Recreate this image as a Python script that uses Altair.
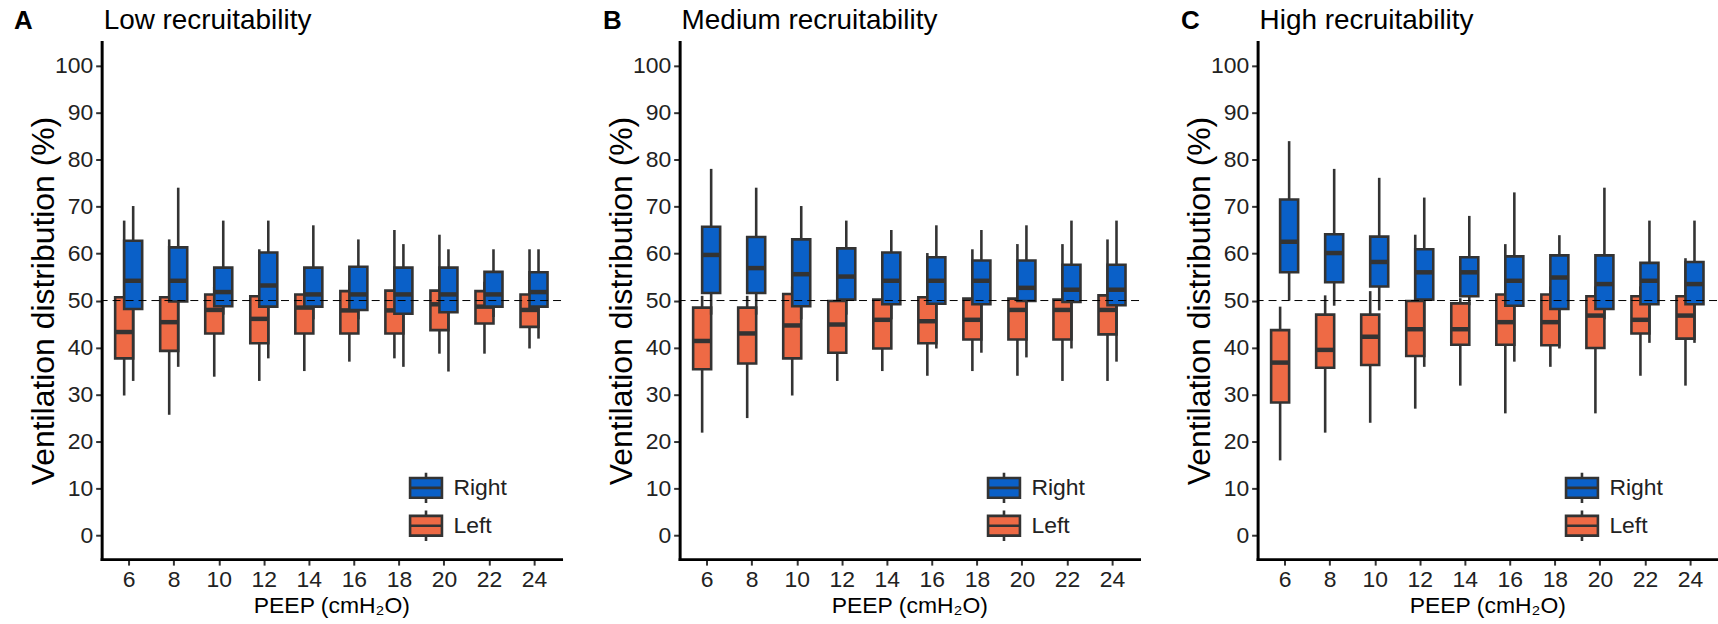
import altair as alt
import pandas as pd

FONT = "Liberation Sans"
STROKE = "#333333"

PEEP = [6, 8, 10, 12, 14, 16, 18, 20, 22, 24]
SIDES = ["Right", "Left"]
SIDE_COLORS = ["#0a60c8", "#ee6a45"]
PANEL_LETTERS = ["A", "B", "C"]
PANEL_TITLES = ["Low recruitability", "Medium recruitability", "High recruitability"]
Y_TICKS = [0, 10, 20, 30, 40, 50, 60, 70, 80, 90, 100]
REFERENCE_LINE = [50]

# Box-plot summaries per PEEP step: whisker ends (lo, hi), quartiles (q1, q3), median.
# Low recruitability
low_right_lo = [32.9, 35.9, 47.0, 37.7, 46.0, 46.0, 35.9, 34.9, 46.5, 41.9]
low_right_q1 = [48.2, 49.8, 48.8, 48.7, 48.7, 48.0, 47.2, 47.5, 48.7, 48.7]
low_right_med = [54.2, 54.2, 51.8, 53.2, 51.3, 51.3, 51.3, 51.3, 51.3, 51.8]
low_right_q3 = [62.7, 61.3, 57.0, 60.2, 57.0, 57.2, 57.0, 57.0, 56.1, 56.0]
low_right_hi = [70.1, 74.0, 67.0, 67.0, 66.0, 63.0, 62.0, 60.9, 60.9, 60.9]

low_left_lo = [29.8, 25.7, 33.8, 32.9, 35.0, 37.0, 37.7, 38.7, 38.7, 39.8]
low_left_q1 = [37.7, 39.3, 43.0, 40.9, 43.0, 43.0, 43.0, 43.7, 45.1, 44.4]
low_left_med = [43.3, 45.4, 48.0, 46.1, 48.5, 47.9, 47.9, 49.2, 48.7, 48.0]
low_left_q3 = [50.7, 50.7, 51.3, 50.9, 51.3, 52.0, 52.1, 52.1, 52.0, 51.3]
low_left_hi = [67.0, 63.0, 53.0, 60.9, 54.0, 54.0, 65.0, 64.0, 54.0, 60.9]

# Medium recruitability
med_right_lo = [47.0, 47.0, 46.0, 47.0, 46.0, 39.8, 38.9, 37.9, 39.8, 37.0]
med_right_q1 = [51.6, 51.6, 48.8, 50.2, 49.2, 49.3, 49.2, 49.9, 49.7, 49.0]
med_right_med = [59.7, 56.9, 55.6, 55.1, 54.2, 54.2, 54.2, 52.7, 52.3, 52.3]
med_right_q3 = [65.7, 63.5, 63.0, 61.1, 60.2, 59.2, 58.5, 58.5, 57.6, 57.6]
med_right_hi = [78.0, 74.0, 70.1, 67.0, 65.0, 66.0, 65.0, 66.0, 67.0, 67.0]

med_left_lo = [21.9, 25.0, 29.8, 32.9, 35.0, 34.0, 35.0, 34.0, 32.9, 32.9]
med_left_q1 = [35.4, 36.6, 37.7, 38.9, 39.8, 40.9, 41.7, 41.7, 41.7, 42.8]
med_left_med = [41.4, 43.0, 44.7, 44.9, 45.9, 45.6, 45.9, 48.0, 48.0, 48.0]
med_left_q3 = [48.5, 48.5, 51.4, 49.9, 50.2, 50.7, 50.4, 50.4, 50.2, 51.1]
med_left_hi = [51.0, 51.0, 53.0, 52.0, 52.0, 60.1, 60.9, 62.0, 62.0, 63.0]

# High recruitability
high_right_lo = [50.0, 48.9, 47.9, 35.9, 49.0, 37.0, 39.8, 46.0, 41.0, 41.0]
high_right_q1 = [56.0, 53.9, 53.0, 50.2, 50.9, 48.9, 48.2, 48.2, 49.2, 49.2]
high_right_med = [62.5, 60.1, 58.2, 56.0, 56.0, 54.2, 54.9, 53.5, 54.2, 53.5]
high_right_q3 = [71.5, 64.1, 63.6, 60.9, 59.2, 59.4, 59.6, 59.6, 58.0, 58.2]
high_right_hi = [83.9, 78.0, 76.1, 71.9, 68.0, 73.0, 63.9, 74.0, 67.0, 67.0]

high_left_lo = [16.0, 21.9, 24.0, 27.0, 31.9, 26.0, 35.9, 26.0, 34.0, 31.9]
high_left_q1 = [28.3, 35.7, 36.3, 38.2, 40.6, 40.6, 40.5, 39.9, 43.0, 41.9]
high_left_med = [36.8, 39.5, 42.3, 43.9, 43.9, 45.4, 45.4, 46.8, 45.9, 46.8]
high_left_q3 = [43.7, 47.0, 47.0, 49.9, 49.4, 51.3, 51.3, 50.9, 50.9, 50.9]
high_left_hi = [48.7, 51.1, 52.0, 64.0, 50.5, 62.0, 53.0, 53.0, 53.0, 59.0]


def summary(side, lo, q1, med, q3, hi):
    return pd.DataFrame({"peep": PEEP, "side": side, "lo": lo, "q1": q1,
                         "med": med, "q3": q3, "hi": hi})


X_SCALE = alt.Scale(domain=[4.8, 25.2], nice=False, zero=False)
Y_SCALE = alt.Scale(domain=[-5, 105], nice=False, zero=False)
X_AXIS = alt.Axis(values=PEEP, title="PEEP (cmH₂O)", titleFontSize=23,
                  titleFontWeight="normal", titleY=54, titleBaseline="alphabetic",
                  labelFlush=False)
Y_AXIS = alt.Axis(values=Y_TICKS, title="Ventilation distribution (%)",
                  titleFontSize=32, titleFontWeight="normal", titleX=-48,
                  titleY=259.5, titleBaseline="alphabetic", titleAlign="center",
                  titleAngle=270)
BOX_SYMBOL = "M-1,-0.62H1V0.62H-1Z M-1,0H1 M0,-0.62V-0.95 M0,0.62V0.95"


def xenc(field):
    return alt.X(field, type="quantitative", scale=X_SCALE, axis=X_AXIS)


def yenc(field):
    return alt.Y(field, type="quantitative", scale=Y_SCALE, axis=Y_AXIS)


def side_layers(df):
    base = (alt.Chart(df)
            .transform_calculate(xc="datum.peep + (datum.side == 'Right' ? 0.2 : -0.2)")
            .transform_calculate(xl="datum.xc - 0.4")
            .transform_calculate(xr="datum.xc + 0.4"))
    lower = base.mark_rule(color=STROKE, strokeWidth=2.6).encode(
        x=xenc("xc"), y=yenc("lo"), y2="q1:Q")
    upper = base.mark_rule(color=STROKE, strokeWidth=2.6).encode(
        x=xenc("xc"), y=yenc("q3"), y2="hi:Q")
    box = base.mark_rect(stroke=STROKE, strokeWidth=2.6).encode(
        x=xenc("xl"), x2="xr:Q", y=yenc("q1"), y2="q3:Q",
        fill=alt.Fill("side:N", scale=alt.Scale(domain=SIDES, range=SIDE_COLORS),
                      legend=alt.Legend(
                          orient="none", legendX=308, legendY=430, title=None,
                          symbolType=BOX_SYMBOL, symbolSize=1024,
                          symbolStrokeColor=STROKE, symbolStrokeWidth=2.6,
                          symbolOpacity=1, labelFont=FONT, labelFontSize=23,
                          labelColor="#222222", rowPadding=-4, labelOffset=10,
                          padding=0)))
    median = base.mark_rule(color=STROKE, strokeWidth=4.5).encode(
        x=xenc("xl"), x2="xr:Q", y=yenc("med"))
    return [lower, upper, box, median]


def panel(letter, title, left_df, right_df):
    ref = alt.Chart(pd.DataFrame({"ref": REFERENCE_LINE})).mark_rule(
        color="black", strokeWidth=1, strokeDash=[8, 5]).encode(y=yenc("ref"))
    heading = pd.DataFrame({"letter": [letter], "title": [title]})
    tag = alt.Chart(heading).mark_text(
        align="left", baseline="alphabetic", font=FONT, fontSize=26,
        fontWeight="bold", color="black").encode(
        text="letter:N", x=alt.value(-88 if letter == "A" else -77),
        y=alt.value(-13))
    name = alt.Chart(heading).mark_text(
        align="left", baseline="alphabetic", font=FONT, fontSize=28,
        fontWeight="normal", color="black").encode(
        text="title:N", x=alt.value(2), y=alt.value(-13))
    layers = side_layers(left_df) + side_layers(right_df) + [ref, tag, name]
    return alt.layer(*layers).properties(width=461, height=519)


chart = alt.hconcat(
    panel(PANEL_LETTERS[0], PANEL_TITLES[0],
          summary("Left", low_left_lo, low_left_q1, low_left_med, low_left_q3, low_left_hi),
          summary("Right", low_right_lo, low_right_q1, low_right_med, low_right_q3, low_right_hi)),
    panel(PANEL_LETTERS[1], PANEL_TITLES[1],
          summary("Left", med_left_lo, med_left_q1, med_left_med, med_left_q3, med_left_hi),
          summary("Right", med_right_lo, med_right_q1, med_right_med, med_right_q3, med_right_hi)),
    panel(PANEL_LETTERS[2], PANEL_TITLES[2],
          summary("Left", high_left_lo, high_left_q1, high_left_med, high_left_q3, high_left_hi),
          summary("Right", high_right_lo, high_right_q1, high_right_med, high_right_q3, high_right_hi)),
    spacing=40,
).resolve_scale(fill="independent").properties(
    padding={"left": 13, "top": 5, "right": 0, "bottom": 0},
    background="white",
).configure_view(stroke="transparent").configure_axis(
    grid=False, domainColor="black", domainWidth=3, domainCap="square",
    tickColor=STROKE, tickWidth=2, tickSize=6, labelFont=FONT, labelFontSize=23,
    labelColor="#222222", labelPadding=3, titleFont=FONT, titleColor="black",
)

chart.save("out.html", embed_options={"renderer": "svg", "actions": False})
